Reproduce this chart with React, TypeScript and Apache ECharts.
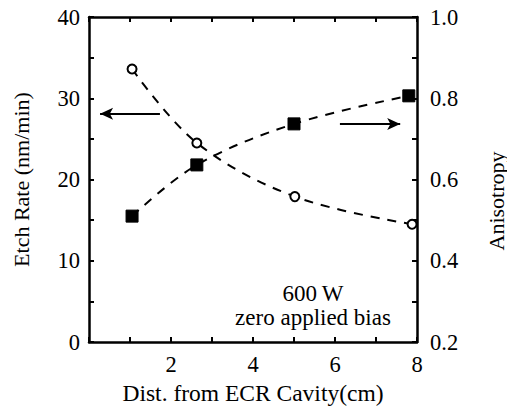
import React, { useEffect, useRef } from "react";
import * as echarts from "echarts";

const distEtch = [1.05, 2.63, 5.02, 7.88];
const etchRate = [33.6, 24.5, 17.9, 14.5];
const distAniso = [1.05, 2.63, 5.0, 7.8];
const anisotropy = [0.51, 0.636, 0.737, 0.806];
const xTickLabels = ["2", "4", "6", "8"];
const leftArrow = { y: 28.1, from: 1.73, to: 0.27 };
const rightArrow = { y: 0.737, from: 6.12, to: 7.59 };
const noteLines = ["600\u2009W", "zero applied bias"];

const FONT = "Liberation Serif";

export default function App() {
  const ref = useRef<HTMLDivElement>(null);
  useEffect(() => {
    document.body.style.margin = "0";
    if (!ref.current) return;
    const chart = echarts.init(ref.current, null, { renderer: "svg" });
    const axisLine = { show: true, onZero: false, lineStyle: { color: "#000", width: 2.5 } };
    const axisTick = { show: true, inside: true, length: 5, lineStyle: { color: "#000", width: 2 } };
    const labelStyle = { color: "#000", fontFamily: FONT, fontSize: 22.5 };
    chart.setOption({
      animation: false,
      backgroundColor: "#fff",
      textStyle: { fontFamily: FONT },
      grid: { left: 89, right: 90, top: 17, bottom: 67, containLabel: false },
      xAxis: [
        {
          type: "value",
          min: 0,
          max: 8,
          interval: 1,
          position: "bottom",
          axisLine,
          axisTick,
          splitLine: { show: false },
          axisLabel: {
            ...labelStyle,
            margin: 11,
            formatter: (v: number) => (xTickLabels.includes(String(v)) ? String(v) : ""),
          },
          name: "Dist. from ECR Cavity(cm)",
          nameLocation: "middle",
          nameGap: 37,
          nameTextStyle: { ...labelStyle, fontSize: 23.5 },
        },
        {
          type: "value",
          min: 0,
          max: 8,
          interval: 1,
          position: "top",
          axisLine,
          axisTick,
          splitLine: { show: false },
          axisLabel: { show: false },
        },
      ],
      yAxis: [
        {
          type: "value",
          min: 0,
          max: 40,
          interval: 5,
          position: "left",
          axisLine,
          axisTick,
          splitLine: { show: false },
          axisLabel: {
            ...labelStyle,
            margin: 9,
            formatter: (v: number) => (v % 10 === 0 ? String(v) : ""),
          },
          name: "Etch Rate (nm/min)",
          nameLocation: "middle",
          nameGap: 57,
          nameTextStyle: { ...labelStyle, fontSize: 22 },
        },
        {
          type: "value",
          min: 0.2,
          max: 1.0,
          interval: 0.1,
          position: "right",
          axisLine,
          axisTick,
          splitLine: { show: false },
          axisLabel: {
            ...labelStyle,
            margin: 13,
            formatter: (v: number) => (Math.round(v * 10) % 2 === 0 ? v.toFixed(1) : ""),
          },
        },
      ],
      series: [
        {
          type: "line",
          xAxisIndex: 0,
          yAxisIndex: 0,
          data: distEtch.map((x, i) => [x, etchRate[i]]),
          smooth: 0.35,
          symbol: "circle",
          symbolSize: 9,
          itemStyle: { color: "#fff", borderColor: "#000", borderWidth: 2 },
          lineStyle: { color: "#000", width: 2, type: [9, 8] },
          markLine: {
            silent: true,
            symbol: ["none", "arrow"],
            symbolSize: [9, 13],
            label: { show: false },
            lineStyle: { color: "#000", width: 2, type: "solid" },
            data: [
              [
                { coord: [leftArrow.from, leftArrow.y] },
                { coord: [leftArrow.to, leftArrow.y] },
              ],
            ],
          },
        },
        {
          type: "line",
          xAxisIndex: 0,
          yAxisIndex: 1,
          data: distAniso.map((x, i) => [x, anisotropy[i]]),
          smooth: 0.35,
          symbol: "rect",
          symbolSize: 12,
          itemStyle: { color: "#000", borderColor: "#000" },
          lineStyle: { color: "#000", width: 2, type: [9, 8] },
          markLine: {
            silent: true,
            symbol: ["none", "arrow"],
            symbolSize: [9, 13],
            label: { show: false },
            lineStyle: { color: "#000", width: 2, type: "solid" },
            data: [
              [
                { coord: [rightArrow.from, rightArrow.y] },
                { coord: [rightArrow.to, rightArrow.y] },
              ],
            ],
          },
        },
      ],
      graphic: [
        {
          type: "text",
          x: 496,
          y: 201,
          rotation: Math.PI / 2,
          style: {
            text: "Anisotropy",
            fill: "#000",
            fontFamily: FONT,
            fontSize: 22,
            textAlign: "center",
            textVerticalAlign: "middle",
          },
        },
        {
          type: "text",
          x: 313,
          y: 293,
          style: {
            text: noteLines[0],
            fill: "#000",
            fontFamily: FONT,
            fontSize: 23,
            textAlign: "center",
            textVerticalAlign: "middle",
          },
        },
        {
          type: "text",
          x: 313,
          y: 317,
          style: {
            text: noteLines[1],
            fill: "#000",
            fontFamily: FONT,
            fontSize: 23,
            textAlign: "center",
            textVerticalAlign: "middle",
          },
        },
      ],
    });
    return () => chart.dispose();
  }, []);
  return <div ref={ref} style={{ width: 507, height: 410 }} />;
}
